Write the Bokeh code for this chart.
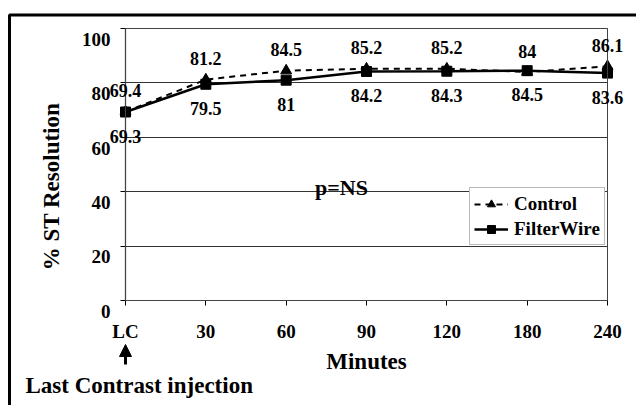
import math
from bokeh.plotting import figure
from bokeh.models import (Range1d, FixedTicker, ColumnDataSource, LabelSet, Label,
                          Legend, LegendItem, Arrow, NormalHead, BoxAnnotation, LinearAxis)
from bokeh.embed import file_html
from bokeh.resources import INLINE

# ---- data ----
categories = ["LC", "30", "60", "90", "120", "180", "240"]
control = [69.4, 81.2, 84.5, 85.2, 85.2, 84.0, 86.1]
filterwire = [69.3, 79.5, 81.0, 84.2, 84.3, 84.5, 83.6]
control_labels = ["69.4", "81.2", "84.5", "85.2", "85.2", "84", "86.1"]
filterwire_labels = ["69.3", "79.5", "81", "84.2", "84.3", "84.5", "83.6"]
y_ticks = [0, 20, 40, 60, 80, 100]

FONT = "Liberation Serif"
x = list(range(len(categories)))
n_last = len(categories) - 1

# canvas geometry: plot area spans 125..607 px horizontally, 28..300 px vertically
W, H = 636, 405
L, R, T, B = 125, 607, 28, 300
xs = (R - L) / n_last          # px per category step
ys = (B - T) / 100.0           # px per percent
LABEL_DROP = 4                 # y tick labels sit slightly below their gridlines

p = figure(width=W, height=H,
           x_range=Range1d(-L / xs, n_last + (W - R) / xs),
           y_range=Range1d(-(H - B) / ys, 100 + T / ys),
           output_backend="svg", toolbar_location=None,
           min_border=0, min_border_left=0, min_border_right=0,
           min_border_top=0, min_border_bottom=0)
p.background_fill_color = "white"
p.border_fill_color = "white"
p.outline_line_color = None

# grid (only across the plot area)
p.xgrid.visible = False
p.ygrid.ticker = FixedTicker(ticks=y_ticks)
p.ygrid.grid_line_color = "#333333"
p.ygrid.grid_line_width = 1
try:
    p.ygrid.cross_bounds = (0, n_last)
except Exception:
    p.ygrid.visible = False
    p.segment(x0=[0] * len(y_ticks), x1=[n_last] * len(y_ticks), y0=y_ticks, y1=y_ticks,
              line_color="#333333", line_width=1)

# plot-area box
p.add_layout(BoxAnnotation(left=0, right=n_last, bottom=0, top=100, fill_alpha=0,
                           line_color="#444444", line_alpha=1, line_width=1))

# axes placed at the plot area's edges
xaxis = p.xaxis[0]
yaxis = p.yaxis[0]
xaxis.fixed_location = 0
yaxis.fixed_location = 0
xaxis.bounds = (0, n_last)
yaxis.bounds = (0, 100)

xaxis.ticker = FixedTicker(ticks=x)
xaxis.major_label_overrides = {i: c for i, c in zip(x, categories)}
xaxis.axis_label = "Minutes"
xaxis.axis_label_text_font = FONT
xaxis.axis_label_text_font_style = "bold"
xaxis.axis_label_text_font_size = "23px"
xaxis.axis_label_text_color = "black"
xaxis.axis_label_standoff = 4
xaxis.major_label_standoff = 15

yaxis.ticker = FixedTicker(ticks=y_ticks)
yaxis.major_label_overrides = {t: "" for t in y_ticks}

for ax in (xaxis, yaxis):
    ax.axis_line_color = "black"
    ax.axis_line_width = 1.2
    ax.major_tick_line_color = "black"
    ax.major_tick_out = 5
    ax.major_tick_in = 0
    ax.minor_tick_out = 0
    ax.minor_tick_in = 0
    ax.major_label_text_font = FONT
    ax.major_label_text_font_style = "bold"
    ax.major_label_text_font_size = "19px"
    ax.major_label_text_color = "black"

# y tick labels (drawn a little below each gridline, as in the original)
ylab_ticks = [t - LABEL_DROP for t in y_ticks]
ylab_axis = LinearAxis(fixed_location=0, ticker=FixedTicker(ticks=ylab_ticks),
                       major_label_overrides={lt: str(t) for lt, t in zip(ylab_ticks, y_ticks)},
                       axis_line_color=None, major_tick_line_color=None,
                       minor_tick_line_color=None, major_tick_out=5, major_tick_in=0,
                       major_label_standoff=10, major_label_text_font=FONT,
                       major_label_text_font_style="bold", major_label_text_font_size="19px",
                       major_label_text_color="black")
p.add_layout(ylab_axis, "left")

# series
l1 = p.line(x, control, line_color="black", line_width=2, line_dash="6 5")
s1 = p.scatter(x, control, marker="triangle", size=11, color="black")
l2 = p.line(x, filterwire, line_color="black", line_width=2.5)
s2 = p.scatter(x, filterwire, marker="square", size=10, color="black")

src_c = ColumnDataSource(dict(x=x, y=control, t=control_labels))
src_f = ColumnDataSource(dict(x=x, y=filterwire, t=filterwire_labels))
for src, off in ((src_c, 21), (src_f, -24)):
    p.add_layout(LabelSet(x="x", y="y", text="t", source=src, y_offset=off,
                          text_align="center", text_baseline="middle",
                          text_font=FONT, text_font_style="bold",
                          text_font_size="18px", text_color="black"))

# y axis title
p.add_layout(Label(x=(51 - L) / xs, y=(B - 186) / ys, text="% ST Resolution",
                   angle=math.pi / 2, text_align="center", text_baseline="middle",
                   text_font=FONT, text_font_style="bold", text_font_size="23px",
                   text_color="black"))

# p=NS
p.add_layout(Label(x=(341 - L) / xs, y=(B - 187) / ys, text="p=NS", text_align="center",
                   text_baseline="alphabetic", text_font=FONT, text_font_style="bold",
                   text_font_size="22px", text_color="black"))

# arrow and note
p.add_layout(Arrow(end=NormalHead(size=12, fill_color="black", line_color="black"),
                   x_start=0, y_start=(B - 364) / ys, x_end=0, y_end=(B - 344) / ys,
                   line_width=3, line_color="black"))
p.add_layout(Label(x=(25 - L) / xs, y=(B - 385) / ys, text="Last Contrast injection",
                   text_align="left", text_baseline="middle", text_font=FONT,
                   text_font_style="bold", text_font_size="23px", text_color="black"))

# outer frame of the figure panel
p.add_layout(BoxAnnotation(left=(9 - L) / xs, right=(W + 20 - L) / xs,
                           top=(B - 14.5) / ys, bottom=(B - H - 20) / ys,
                           fill_alpha=0, line_color="black", line_alpha=1, line_width=3))

legend = Legend(items=[LegendItem(label="Control", renderers=[l1, s1]),
                       LegendItem(label="FilterWire", renderers=[l2, s2])],
                location=(469, 160), label_text_font=FONT, label_text_font_style="bold",
                label_text_font_size="19px", label_text_color="black",
                border_line_color="#777777", border_line_width=1,
                glyph_width=34, glyph_height=20, label_standoff=6, padding=4,
                spacing=2, label_height=23, background_fill_color="white",
                background_fill_alpha=1)
p.add_layout(legend)

open("out.html", "w").write(file_html(p, INLINE))
